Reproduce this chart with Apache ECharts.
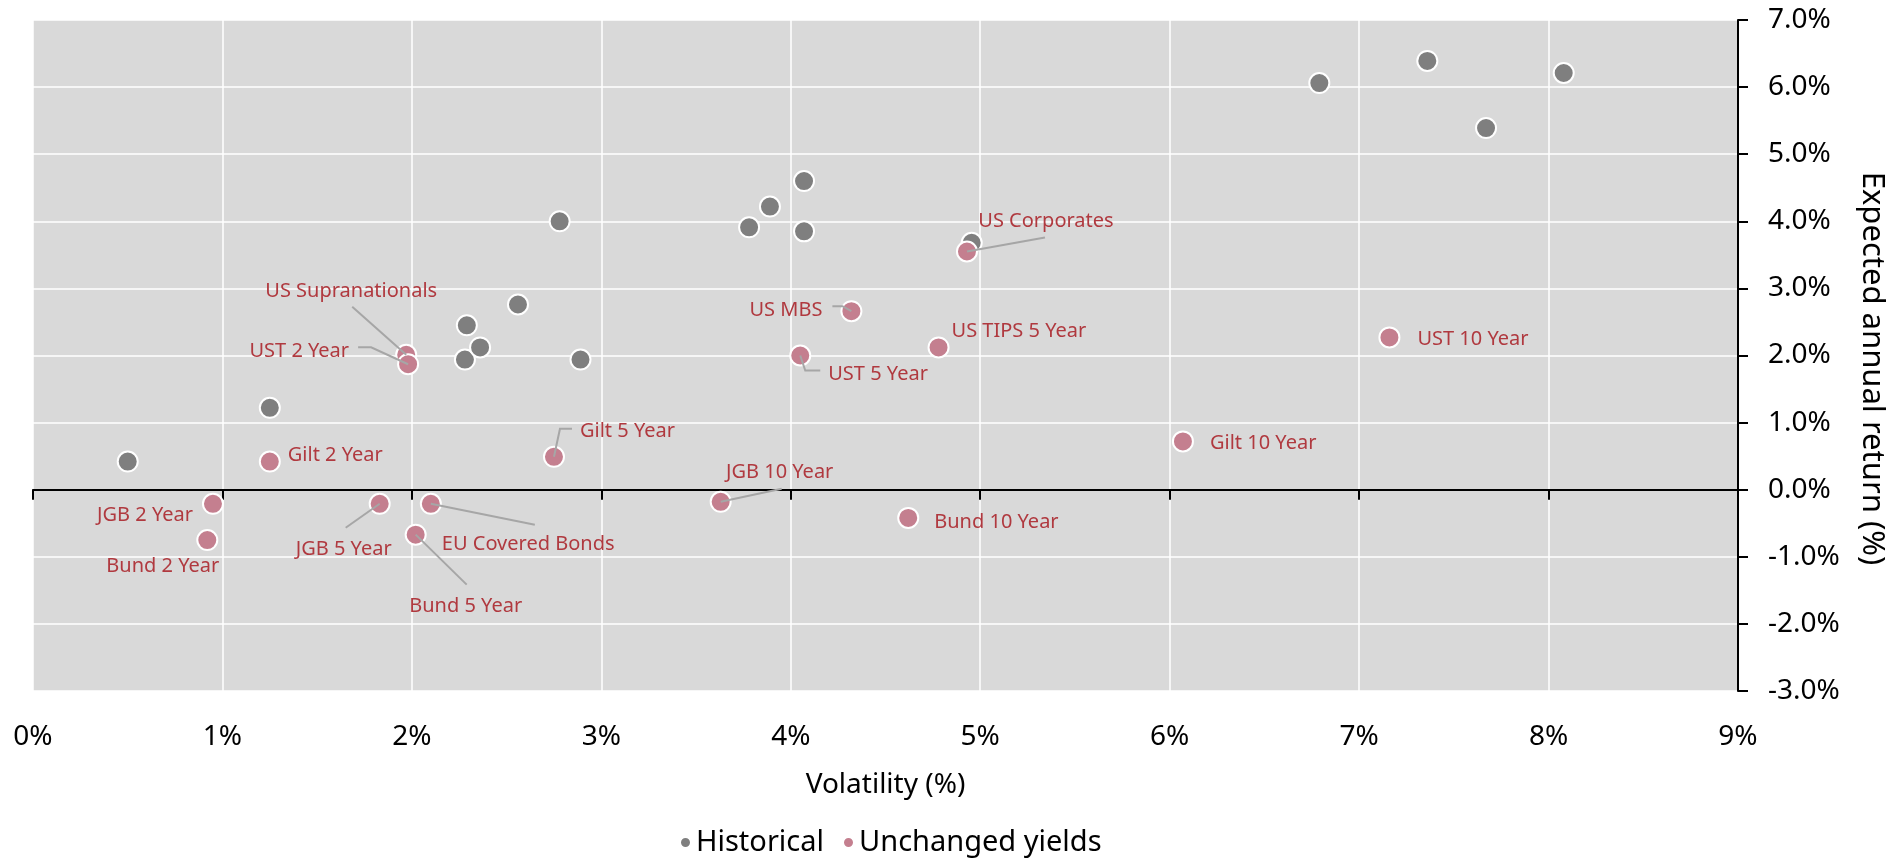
<!DOCTYPE html>
<html>
<head>
<meta charset="utf-8">
<script src="https://cdn.jsdelivr.net/npm/echarts@6/dist/echarts.min.js"></script>
<style>
  html, body { margin: 0; padding: 0; background: #fff; }
  #chart { width: 1898px; height: 861px; }
</style>
</head>
<body>
<div id="chart"></div>
<script>
// values (volatility %, expected annual return %)
const assetNames = ['US Supranationals', 'UST 2 Year', 'Gilt 2 Year', 'Gilt 5 Year', 'JGB 2 Year', 'Bund 2 Year',
  'JGB 5 Year', 'EU Covered Bonds', 'Bund 5 Year', 'US MBS', 'US TIPS 5 Year', 'UST 5 Year', 'UST 10 Year',
  'Gilt 10 Year', 'JGB 10 Year', 'Bund 10 Year', 'US Corporates']
const unchangedVol = [1.97, 1.98, 1.25, 2.75, 0.95, 0.92, 1.83, 2.10, 2.02, 4.32, 4.78, 4.05, 7.16, 6.07, 3.63, 4.62, 4.93]
const unchangedRet = [2.01, 1.87, 0.42, 0.49, -0.21, -0.75, -0.21, -0.21, -0.67, 2.66, 2.12, 2.00, 2.27, 0.72, -0.18, -0.42, 3.55]
const historicalVol = [0.50, 1.25, 2.29, 2.28, 2.36, 2.56, 2.78, 2.89, 3.78, 3.89, 4.07, 4.07, 4.955, 6.79, 7.36, 8.08, 7.67]
const historicalRet = [0.42, 1.22, 2.45, 1.94, 2.12, 2.76, 4.00, 1.94, 3.91, 4.22, 4.60, 3.85, 3.68, 6.06, 6.39, 6.21, 5.39]
const xTicks = [0, 9, 1]   // min, max, step
const yTicks = [-3, 7, 1]

// label placement: offset from the dot in px, text alignment, leader line points (px from dot)
const labelPos = {
  'US Supranationals': { dx: -55, dy: -64, align: 'center', line: [[-54, -48], [0, 0]] },
  'UST 2 Year': { dx: -59, dy: -13, align: 'right', line: [[-50, -17], [-37, -17], [0, 0]] },
  'Gilt 2 Year': { dx: 18, dy: -6, align: 'left' },
  'Gilt 5 Year': { dx: 26, dy: -26, align: 'left', line: [[0, 0], [6, -28], [18, -28]] },
  'JGB 2 Year': { dx: -20, dy: 12, align: 'right' },
  'Bund 2 Year': { dx: 12, dy: 26, align: 'right' },
  'JGB 5 Year': { dx: -36, dy: 46, align: 'center', line: [[-34, 24], [0, 0]] },
  'EU Covered Bonds': { dx: 11, dy: 41, align: 'left', line: [[104, 21], [0, 0]] },
  'Bund 5 Year': { dx: 50, dy: 72, align: 'center', line: [[51, 50], [0, 0]] },
  'US MBS': { dx: -29, dy: -1, align: 'right', line: [[-19, -5], [-9, -5], [0, 0]] },
  'US TIPS 5 Year': { dx: 13, dy: -16, align: 'left' },
  'UST 5 Year': { dx: 28, dy: 19, align: 'left', line: [[0, 0], [5, 15], [20, 15]] },
  'UST 10 Year': { dx: 28, dy: 2, align: 'left' },
  'Gilt 10 Year': { dx: 27, dy: 2, align: 'left' },
  'JGB 10 Year': { dx: 59, dy: -29, align: 'center', line: [[61, -13], [0, 0]] },
  'Bund 10 Year': { dx: 26, dy: 4, align: 'left' },
  'US Corporates': { dx: 79, dy: -30, align: 'center', line: [[78, -14], [0, 0]] }
}

const font = '"Noto Sans", "Open Sans", sans-serif'
const gridBox = { left: 33, right: 160, top: 20, bottom: 170 }

function start(){
  var dom = document.getElementById('chart')
  var myChart = echarts.init(dom)
  let histData = historicalVol.map((v, i) => [v, historicalRet[i]])
  let unchData = unchangedVol.map((v, i) => [v, unchangedRet[i], i])
  // the black zero line is a second x axis pushed down from the top edge to y = 0
  let plotH = dom.clientHeight - gridBox.top - gridBox.bottom
  let zeroOffset = -plotH * (yTicks[1] - 0) / (yTicks[1] - yTicks[0])

  var option = {
    animation: false,
    textStyle: { fontFamily: font },
    grid: Object.assign({ show: true, backgroundColor: '#d9d9d9', borderWidth: 0 }, gridBox),
    legend: {
      data: ['Historical', 'Unchanged yields'],
      left: 674, top: 823,
      icon: 'circle', itemWidth: 11, itemHeight: 11, itemGap: 18,
      textStyle: { fontSize: 29, color: '#000', fontFamily: font }
    },
    xAxis: [
      {
        type: 'value', position: 'bottom',
        min: xTicks[0], max: xTicks[1], interval: xTicks[2],
        name: 'Volatility (%)', nameLocation: 'middle', nameGap: 80,
        nameTextStyle: { fontSize: 28, color: '#000' },
        axisLine: { show: false }, axisTick: { show: false },
        axisLabel: { formatter: '{value}%', fontSize: 28, color: '#000', margin: 32 },
        splitLine: { show: true, lineStyle: { color: '#fff', width: 1.5 } }
      },
      {
        type: 'value', position: 'top', offset: zeroOffset,
        min: xTicks[0], max: xTicks[1], interval: xTicks[2],
        axisLine: { show: true, onZero: false, lineStyle: { color: '#000', width: 2 } },
        axisTick: { show: true, inside: true, length: 10, lineStyle: { color: '#000', width: 2 } },
        axisLabel: { show: false },
        splitLine: { show: false }
      }
    ],
    yAxis: {
      type: 'value', position: 'right',
      min: yTicks[0], max: yTicks[1], interval: yTicks[2],
      name: 'Expected annual return (%)', nameLocation: 'middle', nameRotate: -90, nameGap: 118,
      nameTextStyle: { fontSize: 31, color: '#000', padding: [0, 0, 0, 26] },
      axisLine: { show: true, onZero: false, lineStyle: { color: '#000', width: 2 } },
      axisTick: { show: true, length: 10, lineStyle: { color: '#000', width: 2 } },
      axisLabel: { formatter: v => v.toFixed(1) + '%', fontSize: 28, color: '#000', margin: 30 },
      splitLine: { show: true, lineStyle: { color: '#fff', width: 1.5 } }
    },
    series: [
      {
        name: 'Historical', type: 'scatter', data: histData,
        symbolSize: 20, z: 2,
        itemStyle: { color: '#7f7f7f', borderColor: '#fff', borderWidth: 2, opacity: 1 }
      },
      {
        name: 'Unchanged yields', type: 'scatter', data: unchData,
        symbolSize: 20, z: 3,
        itemStyle: { color: '#c47f8f', borderColor: '#fff', borderWidth: 2, opacity: 1 }
      },
      {
        // labels and leader lines for the unchanged-yields points
        name: 'labels', type: 'custom', data: unchData, z: 4,
        encode: { x: 0, y: 1 },
        silent: true,
        renderItem: function(params, api) {
          let i = api.value(2)
          let p = api.coord([api.value(0), api.value(1)])
          let s = labelPos[assetNames[i]]
          let children = []
          if (s.line) {
            children.push({
              type: 'polyline',
              shape: { points: s.line.map(q => [p[0] + q[0], p[1] + q[1]]) },
              style: { stroke: '#a6a6a6', lineWidth: 2, fill: null }
            })
          }
          children.push({
            type: 'text',
            x: p[0] + s.dx, y: p[1] + s.dy,
            style: {
              text: assetNames[i], fill: '#b0393f',
              font: '20px ' + font,
              align: s.align, verticalAlign: 'middle'
            }
          })
          return { type: 'group', children: children }
        }
      }
    ]
  }
  myChart.setOption(option)
}
window.addEventListener('load', start, false)
</script>
</body>
</html>
